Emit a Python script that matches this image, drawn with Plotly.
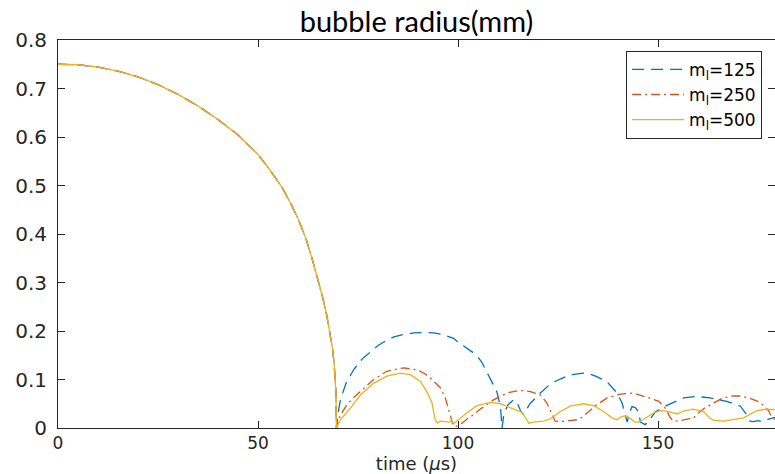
import plotly.graph_objects as go

# Shared collapse phase (all three cases coincide until first collapse)
t_collapse = [0, 5, 10, 15, 20, 25, 30, 35, 40, 45, 50, 53, 56, 58, 60, 62, 63.5, 65,
              66.2, 67.2, 68.0, 68.6, 69.0, 69.3, 69.5, 69.6]
r_collapse = [0.750, 0.749, 0.744, 0.736, 0.724, 0.708, 0.688, 0.664, 0.636, 0.604,
              0.564, 0.532, 0.496, 0.466, 0.432, 0.390, 0.350, 0.305, 0.268, 0.232,
              0.197, 0.165, 0.137, 0.104, 0.070, 0.0]

# Rebound phase, m_l = 125
t_125 = [70.0, 70.6, 72.0, 73.9, 76.0, 78.1, 80.0, 82.2, 84.0, 86.4, 89.0, 91.4, 94.0,
         96.5, 98.9, 100.2, 102.5, 104.7, 106.0, 107.5, 108.6, 109.7, 110.3, 110.7, 111.0,
         111.5, 112.5, 113.9, 114.8, 115.6, 116.3, 117.2, 118.1, 120.6, 122.7, 124.5, 126.4,
         128.5, 131.4, 133.0, 134.7, 137.3, 139.7, 141.0, 141.8, 142.3, 142.8, 143.5, 144.3,
         145.2, 145.6, 146.8, 147.5, 149.3, 151.5, 153.5, 156.4, 159.7, 163.0, 167.2, 170.6,
         172.2, 173.0, 173.8, 175.0, 176.2, 177.5, 179.3]
r_125 = [0.030, 0.058, 0.092, 0.120, 0.142, 0.157, 0.170, 0.181, 0.188, 0.193, 0.196, 0.197,
         0.196, 0.192, 0.185, 0.176, 0.163, 0.150, 0.135, 0.111, 0.094, 0.075, 0.055, 0.035,
         0.0, 0.030, 0.048, 0.058, 0.052, 0.036, 0.028, 0.040, 0.051, 0.072, 0.088, 0.097,
         0.104, 0.110, 0.113, 0.111, 0.106, 0.095, 0.073, 0.052, 0.028, 0.012, 0.030, 0.044,
         0.042, 0.033, 0.012, 0.007, 0.012, 0.033, 0.044, 0.052, 0.062, 0.065, 0.062, 0.055,
         0.045, 0.027, 0.014, 0.013, 0.015, 0.013, 0.018, 0.022]

# Rebound phase, m_l = 250
t_250 = [70.5, 72.0, 73.5, 75.6, 78.9, 82.2, 86.4, 89.7, 91.5, 93.1, 94.5, 95.6, 96.8,
         97.7, 98.3, 98.7, 99.2, 99.7, 101.0, 102.2, 104.0, 105.6, 108.9, 112.2, 115.6,
         118.1, 120.6, 122.2, 123.5, 124.3, 125.5, 127.2, 129.7, 131.0, 132.2, 134.7, 137.3,
         140.6, 143.9, 146.5, 148.5, 150.2, 151.8, 153.1, 153.9, 155.5, 157.0, 158.9, 159.5,
         161.8, 163.9, 166.0, 168.5, 170.6, 173.0, 175.2, 176.6, 177.7, 178.3, 179.3]
r_250 = [0.025, 0.045, 0.060, 0.075, 0.100, 0.117, 0.124, 0.120, 0.113, 0.103, 0.091,
         0.083, 0.063, 0.040, 0.020, 0.006, 0.003, 0.004, 0.010, 0.018, 0.028, 0.039, 0.058,
         0.072, 0.078, 0.075, 0.068, 0.052, 0.028, 0.014, 0.013, 0.015, 0.017, 0.022, 0.031,
         0.048, 0.062, 0.070, 0.072, 0.066, 0.060, 0.055, 0.041, 0.021, 0.014, 0.015, 0.018,
         0.020, 0.027, 0.042, 0.052, 0.061, 0.066, 0.066, 0.061, 0.054, 0.045, 0.035, 0.024,
         0.017]

# Rebound phase, m_l = 500
t_500 = [70.6, 73.1, 75.6, 78.9, 82.2, 85.6, 88.1, 90.6, 92.2, 93.5, 93.9, 94.3, 94.8,
         95.6, 96.8, 97.8, 98.4, 98.9, 100.2, 101.0, 102.2, 104.7, 108.1, 110.6, 112.2,
         114.3, 116.0, 117.2, 117.7, 118.9, 121.4, 123.1, 125.6, 128.1, 131.4, 133.9, 136.4,
         138.5, 139.7, 141.0, 142.2, 143.5, 144.3, 145.2, 146.8, 148.9, 150.6, 152.3, 154.8,
         156.4, 158.7, 161.4, 163.0, 164.0, 166.4, 168.9, 171.4, 172.7, 174.8, 177.2, 179.3]
r_500 = [0.017, 0.041, 0.068, 0.092, 0.107, 0.113, 0.110, 0.096, 0.075, 0.052, 0.031,
         0.017, 0.010, 0.014, 0.013, 0.012, 0.016, 0.009, 0.018, 0.024, 0.031, 0.046, 0.053,
         0.050, 0.045, 0.038, 0.032, 0.017, 0.010, 0.012, 0.014, 0.019, 0.034, 0.045, 0.050,
         0.046, 0.034, 0.021, 0.017, 0.024, 0.025, 0.017, 0.012, 0.012, 0.021, 0.031, 0.036,
         0.035, 0.029, 0.035, 0.039, 0.034, 0.020, 0.016, 0.014, 0.017, 0.021, 0.027, 0.036,
         0.039, 0.038]

x_ticks = [0, 50, 100, 150]
y_ticks = [0, 0.1, 0.2, 0.3, 0.4, 0.5, 0.6, 0.7, 0.8]
y_tick_text = ["0", "0.1", "0.2", "0.3", "0.4", "0.5", "0.6", "0.7", "0.8"]

series = [
    ("m<sub>l</sub>=125", t_125, r_125, "#0072BD", "12px,7px"),
    ("m<sub>l</sub>=250", t_250, r_250, "#D95319", "9px,4px,2px,4px"),
    ("m<sub>l</sub>=500", t_500, r_500, "#EDB120", "solid"),
]

fig = go.Figure()
for name, t, r, color, dash in series:
    fig.add_trace(go.Scatter(
        x=t_collapse + t, y=r_collapse + r, mode="lines", name=name,
        line=dict(color=color, width=1.3, dash=dash),
    ))

axis_color = "#262626"

fig.update_layout(
    width=775, height=474,
    margin=dict(l=58, r=0, t=40, b=46),
    paper_bgcolor="white", plot_bgcolor="white",
    title=dict(text="bubble radius(mm)", x=0.5, xref="paper", y=0.953, yref="container",
               xanchor="center", yanchor="middle",
               font=dict(family="Lato", size=29, color="black")),
    showlegend=True,
    legend=dict(x=0.982, y=0.972, xanchor="right", yanchor="top",
                bgcolor="white", bordercolor=axis_color, borderwidth=1,
                font=dict(family="DejaVu Sans", size=17, color="black"),
                itemwidth=52, tracegroupgap=0),
    xaxis=dict(range=[0, 179.25], tickmode="array", tickvals=x_ticks,
               ticks="inside", ticklen=7, tickcolor=axis_color, tickwidth=1,
               showline=True, linecolor=axis_color, linewidth=1, mirror="ticks",
               showgrid=False, zeroline=False,
               tickfont=dict(family="DejaVu Sans", size=17, color=axis_color),
               ticklabelstandoff=0,
               title=dict(text="time (<i>μ</i>s)", standoff=5,
                          font=dict(family="DejaVu Sans", size=18, color=axis_color))),
    yaxis=dict(range=[0, 0.8], tickmode="array", tickvals=y_ticks, ticktext=y_tick_text,
               ticks="inside", ticklen=7, tickcolor=axis_color, tickwidth=1,
               showline=True, linecolor=axis_color, linewidth=1, mirror="ticks",
               showgrid=False, zeroline=False,
               tickfont=dict(family="DejaVu Sans", size=20, color=axis_color),
               ticklabelstandoff=6),
)

fig.write_html("out.html")
